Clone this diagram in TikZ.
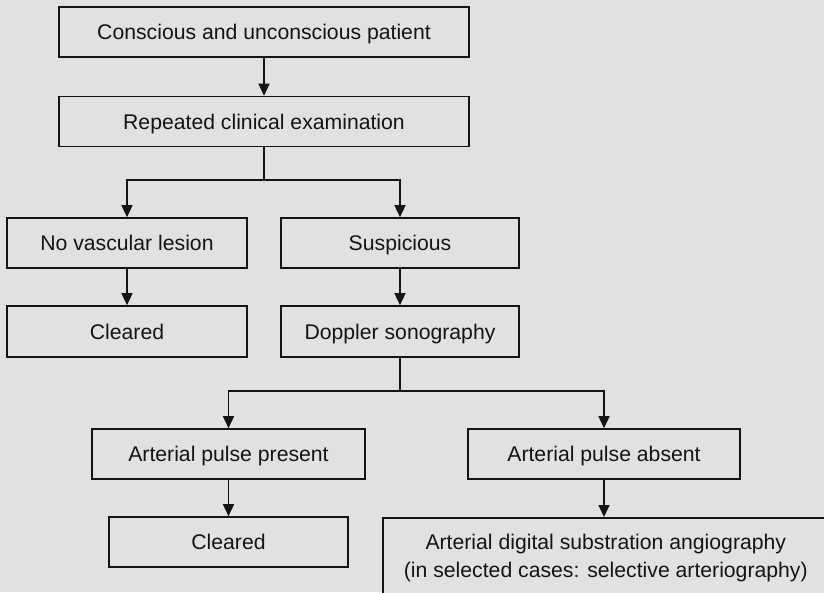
\documentclass[tikz,border=0pt]{standalone}
\usepackage{fontspec}
\setmainfont{Liberation Sans}
\usetikzlibrary{arrows.meta}
\definecolor{paper}{RGB}{225,225,225}
\definecolor{ink}{RGB}{20,20,20}
\begin{document}
\begin{tikzpicture}[x=1pt,y=-1pt,
  box/.style={draw=ink, line width=1.6pt, fill=paper, rectangle, inner sep=0pt,
    font=\fontsize{21.2}{28}\selectfont, text=ink, align=center},
  oneline/.style={box, text height=15pt, text depth=0pt},
  link/.style={draw=ink, line width=1.5pt},
  arr/.style={link, -{Triangle[length=12pt,width=11pt]}}]
  % page
  \fill[paper] (0,0) rectangle (824,592);
  \useasboundingbox (0,0) rectangle (824,592);
  \clip (0,0) rectangle (824,592);

  % boxes
  \node[oneline, minimum width=410, minimum height=50] (start) at (264,32) {Conscious and unconscious patient};
  \node[oneline, minimum width=410, minimum height=50] (exam) at (264,121.5) {Repeated clinical examination};
  \node[oneline, minimum width=240, minimum height=50] (nolesion) at (127,243) {No vascular lesion};
  \node[oneline, minimum width=238, minimum height=50] (susp) at (400,243) {Suspicious};
  \node[oneline, minimum width=240, minimum height=51] (clearA) at (127,331.5) {Cleared};
  \node[oneline, minimum width=238, minimum height=51] (doppler) at (400,331.5) {Doppler sonography};
  \node[oneline, minimum width=273, minimum height=50] (present) at (228.5,454) {Arterial pulse present};
  \node[oneline, minimum width=272, minimum height=50] (absent) at (604,454) {Arterial pulse absent};
  \node[oneline, minimum width=239, minimum height=50] (clearB) at (228.5,542) {Cleared};
  \node[box, anchor=north west, minimum width=446, minimum height=80] (dsa) at (382,517)
    {Arterial digital substration angiography\\(in selected cases: selective arteriography)};

  % branch points
  \coordinate (fork1) at (264,180);
  \coordinate (fork2) at (400,391);

  % connectors
  \draw[arr] (start.south) -- (exam.north);
  \draw[link] (exam.south) -- (fork1);
  \draw[arr] (fork1) -| (nolesion.north);
  \draw[arr] (fork1) -| (susp.north);
  \draw[arr] (nolesion.south) -- (clearA.north);
  \draw[arr] (susp.south) -- (doppler.north);
  \draw[link] (doppler.south) -- (fork2);
  \draw[arr] (fork2) -| (present.north);
  \draw[arr] (fork2) -| (absent.north);
  \draw[arr] (present.south) -- (clearB.north);
  \draw[arr] (absent.south) -- (absent.south |- dsa.north);
\end{tikzpicture}
\end{document}
